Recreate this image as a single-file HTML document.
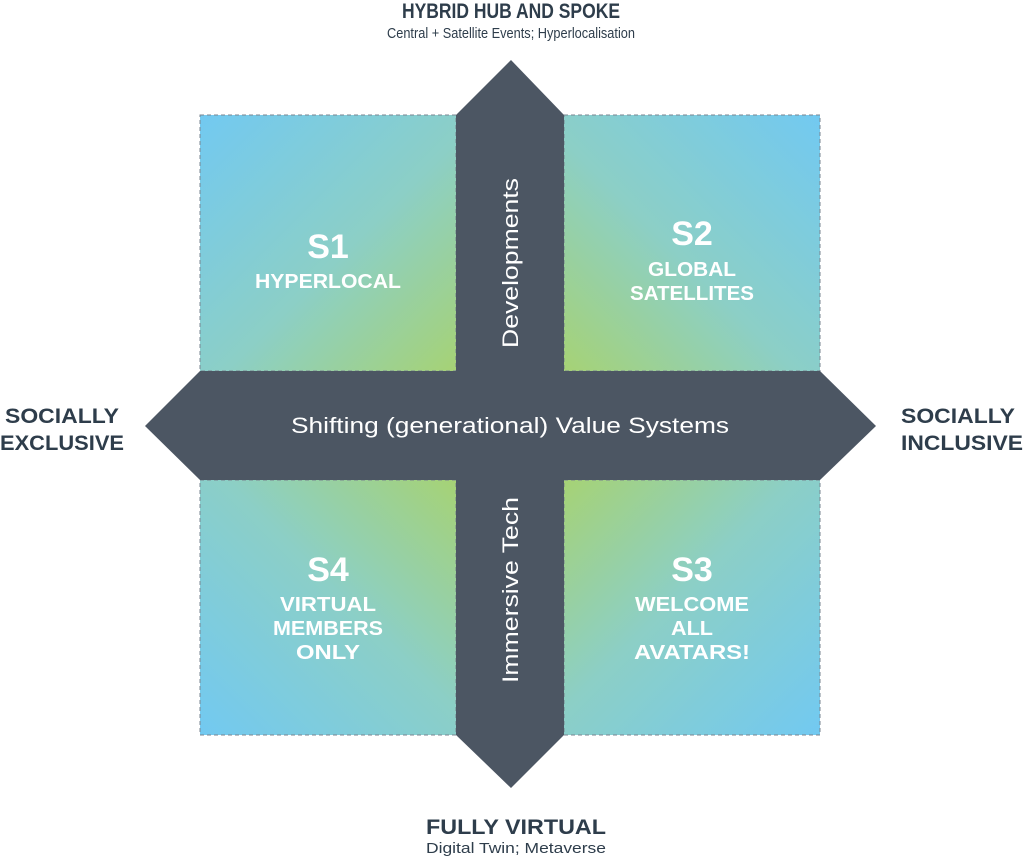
<!DOCTYPE html>
<html><head><meta charset="utf-8"><style>
html,body{margin:0;padding:0;background:#fff;}
svg{display:block;font-family:"Liberation Sans",sans-serif;}
</style></head><body>
<svg width="1024" height="858" viewBox="0 0 1024 858" xmlns="http://www.w3.org/2000/svg">
<defs>
<linearGradient id="g1" x1="0" y1="0" x2="1" y2="1"><stop offset="0" stop-color="#72c9f1"/><stop offset="0.55" stop-color="#8ccfc6"/><stop offset="1" stop-color="#a6d275"/></linearGradient>
<linearGradient id="g2" x1="1" y1="0" x2="0" y2="1"><stop offset="0" stop-color="#72c9f1"/><stop offset="0.55" stop-color="#8ccfc6"/><stop offset="1" stop-color="#a6d275"/></linearGradient>
<linearGradient id="g3" x1="1" y1="1" x2="0" y2="0"><stop offset="0" stop-color="#72c9f1"/><stop offset="0.55" stop-color="#8ccfc6"/><stop offset="1" stop-color="#a6d275"/></linearGradient>
<linearGradient id="g4" x1="0" y1="1" x2="1" y2="0"><stop offset="0" stop-color="#72c9f1"/><stop offset="0.55" stop-color="#8ccfc6"/><stop offset="1" stop-color="#a6d275"/></linearGradient>
</defs>
<g stroke="#7a8590" stroke-width="1" stroke-dasharray="4,3">
<rect x="200" y="115" width="256" height="256" fill="url(#g1)"/>
<rect x="564" y="115" width="256" height="256" fill="url(#g2)"/>
<rect x="564" y="480" width="256" height="255" fill="url(#g3)"/>
<rect x="200" y="480" width="256" height="255" fill="url(#g4)"/>
</g>
<g fill="#4c5663">
<polygon points="511,60 564,115 564,735 511,788 456,735 456,115"/>
<polygon points="145,426 200,371 820,371 876,426 820,480 200,480"/>
</g>
<g fill="#fff" font-weight="bold" text-anchor="middle">
<text x="328" y="258" font-size="34">S1</text>
<text x="328" y="288" font-size="20" textLength="146" lengthAdjust="spacingAndGlyphs">HYPERLOCAL</text>
<text x="692" y="245" font-size="34">S2</text>
<text x="692" y="276" font-size="20" textLength="88" lengthAdjust="spacingAndGlyphs">GLOBAL</text>
<text x="692" y="300" font-size="20" textLength="124" lengthAdjust="spacingAndGlyphs">SATELLITES</text>
<text x="328" y="581" font-size="34">S4</text>
<text x="328" y="611" font-size="20" textLength="96" lengthAdjust="spacingAndGlyphs">VIRTUAL</text>
<text x="328" y="635" font-size="20" textLength="110" lengthAdjust="spacingAndGlyphs">MEMBERS</text>
<text x="328" y="659" font-size="20" textLength="64" lengthAdjust="spacingAndGlyphs">ONLY</text>
<text x="692" y="581" font-size="34">S3</text>
<text x="692" y="611" font-size="20" textLength="114" lengthAdjust="spacingAndGlyphs">WELCOME</text>
<text x="692" y="635" font-size="20" textLength="42" lengthAdjust="spacingAndGlyphs">ALL</text>
<text x="692" y="659" font-size="20" textLength="116" lengthAdjust="spacingAndGlyphs">AVATARS!</text>
</g>
<g fill="#fff" font-size="22" text-anchor="middle">
<text x="510" y="433" textLength="438" lengthAdjust="spacingAndGlyphs">Shifting (generational) Value Systems</text>
<text transform="translate(518,263) rotate(-90)" textLength="170" lengthAdjust="spacingAndGlyphs">Developments</text>
<text transform="translate(518,590) rotate(-90)" textLength="186" lengthAdjust="spacingAndGlyphs">Immersive Tech</text>
</g>
<g fill="#2e3d4b" text-anchor="middle">
<text x="511" y="18" font-size="21" font-weight="bold" textLength="218" lengthAdjust="spacingAndGlyphs">HYBRID HUB AND SPOKE</text>
<text x="511" y="38" font-size="15" textLength="248" lengthAdjust="spacingAndGlyphs">Central + Satellite Events; Hyperlocalisation</text>
<text x="516" y="834" font-size="21" font-weight="bold" textLength="180" lengthAdjust="spacingAndGlyphs">FULLY VIRTUAL</text>
<text x="516" y="853" font-size="15" textLength="180" lengthAdjust="spacingAndGlyphs">Digital Twin; Metaverse</text>
<text x="62" y="423" font-size="21" font-weight="bold" textLength="114" lengthAdjust="spacingAndGlyphs">SOCIALLY</text>
<text x="62" y="450" font-size="21" font-weight="bold" textLength="124" lengthAdjust="spacingAndGlyphs">EXCLUSIVE</text>
<text x="958" y="423" font-size="21" font-weight="bold" textLength="114" lengthAdjust="spacingAndGlyphs">SOCIALLY</text>
<text x="962" y="450" font-size="21" font-weight="bold" textLength="122" lengthAdjust="spacingAndGlyphs">INCLUSIVE</text>
</g>
</svg>
</body></html>
